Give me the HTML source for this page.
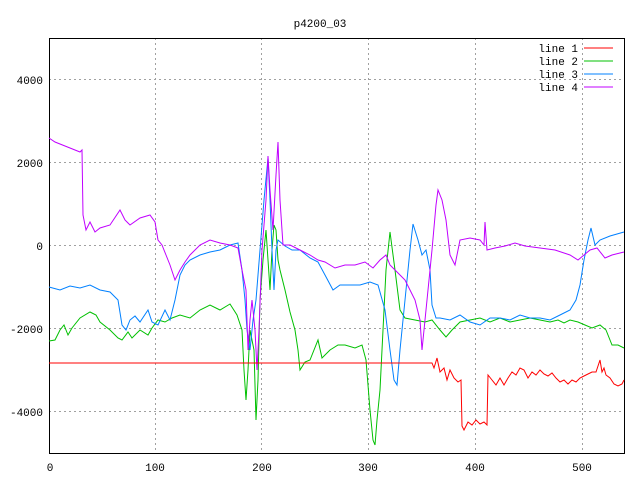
<!DOCTYPE html>
<html><head><style>body{margin:0;background:#fff}svg{display:block}text{font-family:"Liberation Mono","DejaVu Sans Mono",monospace;font-size:11px;fill:#000}</style></head><body>
<svg width="640" height="480" xmlns="http://www.w3.org/2000/svg">
<g stroke="#a0a0a0" stroke-dasharray="2,3" stroke-width="1">
<line x1="49" y1="79.5" x2="624" y2="79.5"/><line x1="49" y1="162.5" x2="624" y2="162.5"/><line x1="49" y1="245.5" x2="624" y2="245.5"/><line x1="49" y1="328.5" x2="624" y2="328.5"/><line x1="49" y1="411.5" x2="624" y2="411.5"/>
<line x1="155.5" y1="38" x2="155.5" y2="453"/><line x1="261.5" y1="38" x2="261.5" y2="453"/><line x1="368.5" y1="38" x2="368.5" y2="453"/><line x1="475.5" y1="38" x2="475.5" y2="453"/><line x1="582.5" y1="38" x2="582.5" y2="453"/>
</g>
<rect x="49.5" y="38.5" width="575" height="415" fill="none" stroke="#000"/>
<text x="320" y="27" text-anchor="middle">p4200_03</text>
<g text-anchor="end"><text x="43" y="84">4000</text><text x="43" y="167">2000</text><text x="43" y="250">0</text><text x="43" y="333">-2000</text><text x="43" y="416">-4000</text></g>
<g text-anchor="middle"><text x="50" y="471">0</text><text x="155" y="471">100</text><text x="262" y="471">200</text><text x="368" y="471">300</text><text x="475" y="471">400</text><text x="582" y="471">500</text></g>
<g text-anchor="end"><text x="578" y="52">line 1</text><text x="578" y="65">line 2</text><text x="578" y="78">line 3</text><text x="578" y="91">line 4</text></g>
<line x1="584" y1="48" x2="613" y2="48" stroke="#ff0000"/><line x1="584" y1="61" x2="613" y2="61" stroke="#00c000"/><line x1="584" y1="74" x2="613" y2="74" stroke="#0080ff"/><line x1="584" y1="87" x2="613" y2="87" stroke="#c000ff"/>
<g fill="none" stroke-width="1">
<polyline stroke="#00c000" points="49,341 55,340 60,330 64,325 68,335 72,328 80,318 90,312 96,315 100,322 110,330 118,338 122,340 128,332 132,338 140,330 148,335 152,328 158,320 165,322 172,318 180,315 190,318 200,310 210,305 220,310 230,304 237,315 242,330 244,370 246,400 248,370 250,330 254,350 256,420 258,380 260,300 263,260 266,230 268,260 270,290 272,250 274,225 276,230 278,260 280,270 285,290 290,312 295,330 298,350 300,370 305,362 310,360 318,340 322,358 330,350 338,345 345,345 355,348 362,345 366,360 370,410 373,440 375,445 377,420 380,390 383,330 386,270 390,232 395,270 400,310 405,318 415,320 425,322 432,320 440,330 446,337 452,330 460,322 470,320 480,318 490,322 500,318 510,322 520,320 530,318 540,320 550,322 558,320 564,323 570,320 578,322 585,325 592,328 600,325 606,330 612,345 618,345 624,348"/>
<polyline stroke="#0080ff" points="49,287 60,290 70,286 80,288 90,285 100,290 110,292 118,300 122,325 126,330 130,320 135,316 140,322 148,310 152,322 158,325 165,310 170,320 175,300 180,275 185,265 190,260 200,255 210,252 220,250 230,245 238,243 242,270 245,300 247,330 250,350 253,320 256,300 260,250 264,200 268,158 270,200 272,250 274,290 276,250 278,240 285,246 292,250 300,250 310,258 318,262 325,275 333,290 340,285 350,285 360,285 370,282 378,285 385,310 390,350 394,380 397,385 400,350 405,300 410,250 413,224 418,240 422,255 426,250 430,270 432,305 436,318 440,318 450,320 460,315 470,322 480,325 490,318 500,318 510,320 520,315 530,318 540,318 550,320 560,315 570,310 576,300 580,285 584,260 588,240 591,228 595,245 600,240 610,236 624,232"/>
<polyline stroke="#c000ff" points="49,138 55,142 65,146 75,150 80,152 82,150 83,215 86,230 90,222 95,232 100,228 110,225 120,210 125,220 130,225 140,218 150,215 155,222 158,240 162,245 166,255 170,265 175,280 180,270 185,262 190,255 200,245 210,240 220,243 230,245 238,248 242,270 246,290 248,350 250,320 252,300 255,330 257,370 259,330 262,250 266,200 268,156 270,190 273,230 276,175 278,142 280,200 283,245 290,245 300,250 310,255 318,260 325,262 335,268 345,265 355,265 365,262 373,268 380,260 386,255 390,265 395,270 400,275 405,280 410,290 415,300 420,320 422,350 424,330 428,290 432,250 436,205 438,190 442,200 446,220 450,255 455,265 460,240 470,238 480,240 484,245 485,222 487,250 495,248 505,246 515,243 525,246 540,248 555,250 570,255 578,260 584,255 590,250 597,248 605,258 612,255 624,252"/>
<polyline stroke="#ff0000" points="49,363 432,363 434,368 437,358 440,372 444,368 447,380 450,370 454,378 458,382 461,380 462,426 464,430 468,422 472,425 476,420 480,424 484,422 487,425 488,375 492,380 496,385 500,378 504,385 508,378 512,372 516,375 520,368 524,370 528,378 532,372 536,375 540,370 544,374 548,376 552,373 556,378 560,382 564,380 568,384 572,380 576,382 580,378 584,376 588,374 592,372 596,372 600,360 602,372 604,368 606,375 610,378 614,384 618,386 622,384 624,380"/>
</g>
</svg>
</body></html>
